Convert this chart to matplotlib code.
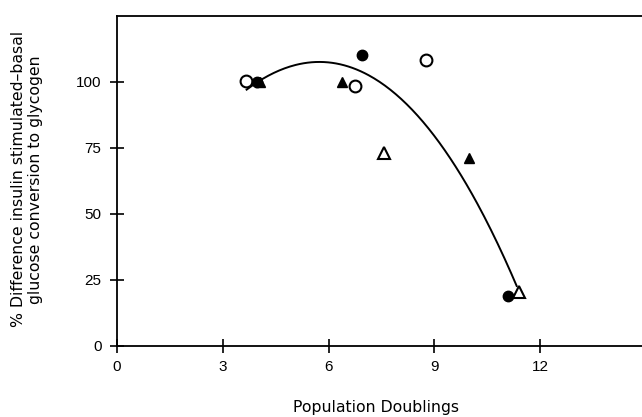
import matplotlib
matplotlib.use("Agg")
import matplotlib.pyplot as plt
import numpy as np

# points (population doublings, % difference)
open_circ_x = [3.65, 6.76, 8.75]
open_circ_y = [100.3, 98.4, 108.5]
fill_circ_x = [3.98, 6.94, 11.07]
fill_circ_y = [100.0, 110.4, 18.8]
fill_tri_x = [4.05, 6.37, 9.98]
fill_tri_y = [100.0, 100.0, 71.2]
open_tri_x = [7.57, 11.40]
open_tri_y = [73.1, 20.5]

# fitted curve, sampled from the figure
curve_x = [3.68, 4.15, 4.82, 5.67, 6.52, 7.27, 7.65, 8.03, 8.40, 9.07, 9.63, 10.2, 10.76, 11.33]
curve_y = [96.9, 101.3, 105.7, 107.8, 106.3, 101.3, 96.9, 93.7, 89.3, 79.2, 67.8, 53.9, 38.8, 23.0]

plt.rcParams['font.family'] = ['Liberation Sans', 'DejaVu Sans']

fig = plt.figure(figsize=(6.42, 4.17), dpi=100)
ax = fig.add_axes([0.1818, 0.171, 0.8182, 0.7906])

# smooth line through the sampled curve
c = np.polyfit(curve_x, curve_y, 3)
xs = np.linspace(curve_x[0], curve_x[-1], 200)
ax.plot(xs, np.polyval(c, xs), color='black', lw=1.4, zorder=2)

ax.plot(open_circ_x, open_circ_y, 'o', ms=8.5, mfc='white', mec='black', mew=1.5, zorder=3)
ax.plot(fill_circ_x, fill_circ_y, 'o', ms=7.5, color='black', zorder=3)
ax.plot(fill_tri_x, fill_tri_y, '^', ms=7.5, color='black', zorder=3)
ax.plot(open_tri_x, open_tri_y, '^', ms=8, mfc='white', mec='black', mew=1.5, zorder=3)

ax.set_xlim(0, 14.88)
ax.set_ylim(0, 125)
ax.set_xticks([0, 3, 6, 9, 12])
ax.set_yticks([0, 25, 50, 75, 100])
ax.tick_params(direction='inout', length=10, width=1.2, labelsize=11)
ax.tick_params(axis='y', pad=6)
ax.tick_params(axis='x', pad=5)
ax.spines['right'].set_visible(False)
for s in ['left', 'bottom', 'top']:
    ax.spines[s].set_linewidth(1.3)

ax.set_xlabel('Population Doublings', fontsize=11.3, family='DejaVu Sans')
ax.xaxis.set_label_coords((376 - 116.7) / (642 - 116.7), -0.165)
ax.set_ylabel('% Difference insulin stimulated\u2013basal\nglucose conversion to glycogen',
              fontsize=11.3, linespacing=1.15, family='DejaVu Sans')
ax.yaxis.set_label_coords(-0.14, 0.505)

fig.savefig('out.png', dpi=100)
